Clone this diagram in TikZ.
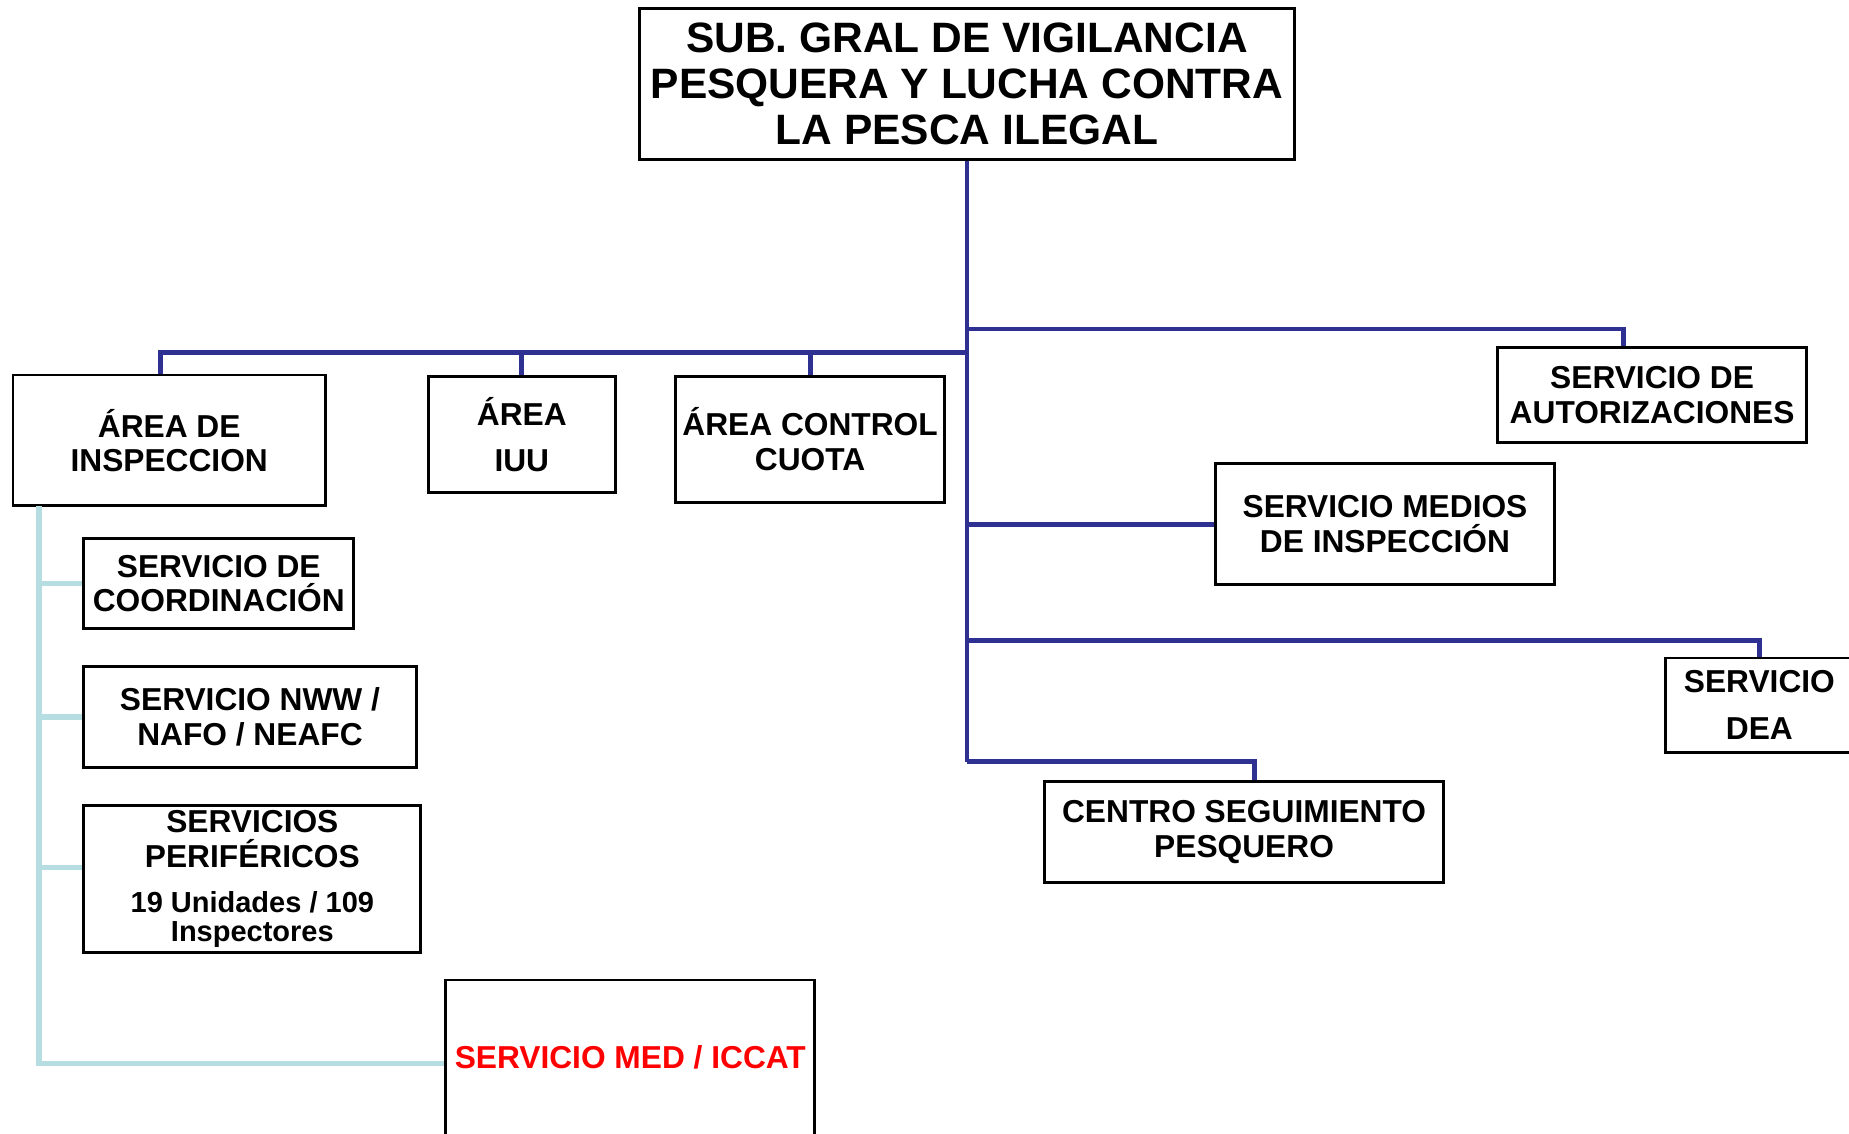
\documentclass[tikz,border=0pt]{standalone}
\usepackage{fontspec}
\setmainfont{Liberation Sans}
\definecolor{azul}{RGB}{46,49,146}
\definecolor{celeste}{RGB}{182,222,226}
\tikzset{
  caja/.style={draw=black,line width=1.4pt,fill=white,inner sep=0pt,align=center,
    font=\bfseries\fontsize{15.3}{16.6}\selectfont},
  rama/.style={draw=azul,line width=2.3pt},
  ramal/.style={draw=celeste,line width=2.6pt},
}
\begin{document}
\begin{tikzpicture}[x=0.02cm,y=-0.02cm]
  \useasboundingbox (0,0) rectangle (1568,961);
  % direccion
  \node[caja,minimum width=11.12cm,minimum height=2.56cm,font=\bfseries\fontsize{20.5}{22.3}\selectfont]
    (top) at (820,71) {SUB. GRAL DE VIGILANCIA\\PESQUERA Y LUCHA CONTRA\\LA PESCA ILEGAL};
  % areas
  \node[caja,minimum width=5.3cm,minimum height=2.22cm]  (ainsp)  at (143.5,373.5) {ÁREA DE\\INSPECCION};
  \node[caja,minimum width=3.18cm,minimum height=1.98cm] (aiuu)   at (442.5,368.5) {ÁREA\\[6pt]IUU};
  \node[caja,minimum width=4.56cm,minimum height=2.14cm] (acuota) at (687,372.5)   {ÁREA CONTROL\\CUOTA};
  % servicios
  \node[caja,minimum width=5.24cm,minimum height=1.6cm]  (sauto)   at (1401,335)    {SERVICIO DE\\AUTORIZACIONES};
  \node[caja,minimum width=5.74cm,minimum height=2.06cm] (smedios) at (1174.5,444.5) {SERVICIO MEDIOS\\DE INSPECCIÓN};
  \node[caja,minimum width=3.2cm,minimum height=1.6cm]   (sdea)    at (1492,598)    {SERVICIO\\[6pt]DEA};
  \node[caja,minimum width=6.76cm,minimum height=1.7cm]  (csp)     at (1055,705.5)  {CENTRO SEGUIMIENTO\\PESQUERO};
  % servicios del area de inspeccion
  \node[caja,minimum width=4.58cm,minimum height=1.52cm] (scoord) at (185.5,495) {SERVICIO DE\\COORDINACIÓN};
  \node[caja,minimum width=5.64cm,minimum height=1.72cm] (snww)   at (212,608)   {SERVICIO NWW /\\NAFO / NEAFC};
  \node[caja,minimum width=5.72cm,minimum height=2.5cm]  (speri)  at (214,745.5)
    {SERVICIOS\\PERIFÉRICOS\\[5pt]\fontsize{14}{15}\selectfont 19 Unidades / 109\\[-2.5pt]\fontsize{14}{15}\selectfont Inspectores};
  \node[caja,minimum width=6.26cm,minimum height=2.64cm,text=red] (smed) at (534.5,897) {SERVICIO MED / ICCAT};

  % lineas de dependencia
  \coordinate (tronco) at (820,646);
  \coordinate (busI) at (820,299);
  \coordinate (busA) at (820,279);
  \coordinate (busD) at (820,543);
  \coordinate (eje) at (33,429);
  \draw[rama] (top.south) -- (tronco);
  \draw[rama] (busI) -| ([xshift=-0.15cm]ainsp.north);
  \draw[rama] (busI) -| (aiuu.north);
  \draw[rama] (busI) -| (acuota.north);
  \draw[rama] (busA) -| ([xshift=-0.48cm]sauto.north);
  \draw[rama] (smedios.west -| tronco) -- (smedios.west);
  \draw[rama] (busD) -| (sdea.north);
  \draw[rama] (tronco) -| ([xshift=0.18cm]csp.north);
  \draw[ramal] (eje) |- ([yshift=-0.1cm]smed.west);
  \draw[ramal] (scoord.west -| eje) -- (scoord.west);
  \draw[ramal] (snww.west -| eje) -- (snww.west);
  \draw[ramal] ([yshift=0.2cm]speri.west -| eje) -- ([yshift=0.2cm]speri.west);
\end{tikzpicture}
\end{document}
